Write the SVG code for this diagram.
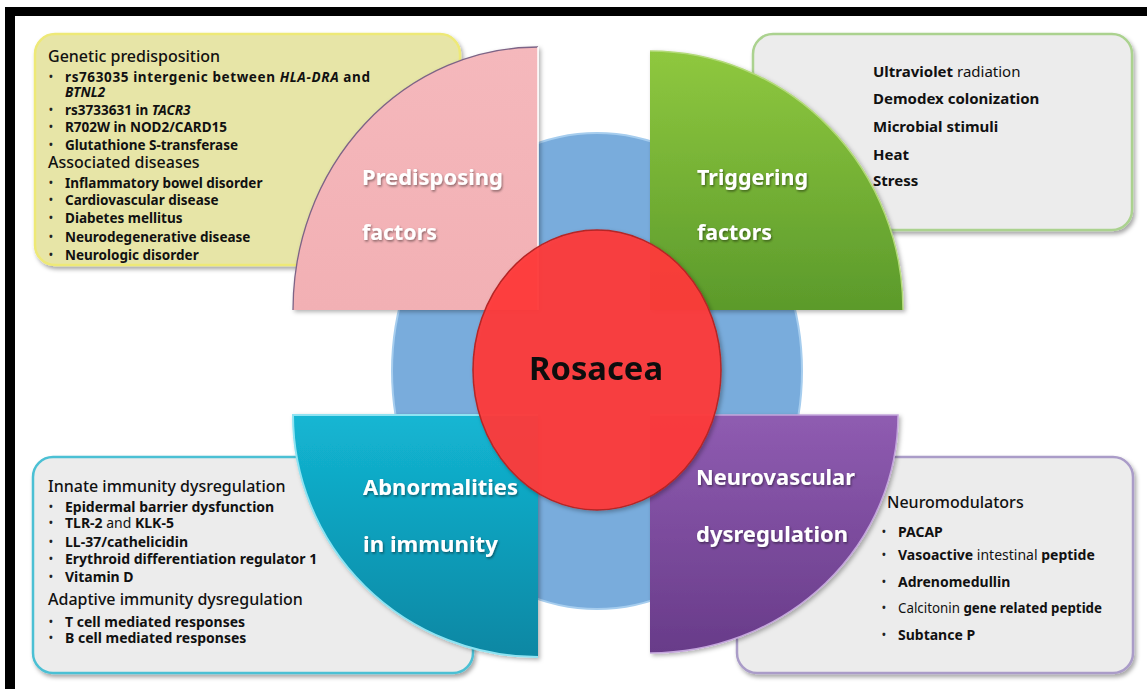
<svg xmlns="http://www.w3.org/2000/svg" width="1147" height="689" viewBox="0 0 1147 689">
<style>
  text { font-family: "Noto Sans", "Liberation Sans", sans-serif; }
  .hd { font-size: 16px; font-weight: 500; fill: #111; }
  .it { font-size: 13.5px; font-weight: bold; fill: #111; }
  .it14 { font-size: 14px; font-weight: bold; fill: #111; }
  .tr { font-size: 15px; font-weight: bold; fill: #111; }
  .rg { font-weight: normal; }
  .bl { font-size: 10px; font-weight: bold; fill: #222; }
  .lab { font-size: 21px; font-weight: bold; fill: #ffffff; filter: url(#tsh); }
  .box { stroke-width: 2.5; filter: url(#bsh); }
</style>
<defs>
  <filter id="bsh" x="-10%" y="-10%" width="120%" height="125%">
    <feDropShadow dx="2" dy="3" stdDeviation="2" flood-color="#000" flood-opacity="0.35"/>
  </filter>
  <filter id="qsh" x="-10%" y="-10%" width="125%" height="125%">
    <feDropShadow dx="2" dy="2" stdDeviation="2" flood-color="#000" flood-opacity="0.3"/>
  </filter>
  <filter id="tsh" x="-10%" y="-20%" width="120%" height="150%">
    <feDropShadow dx="1" dy="1.5" stdDeviation="1" flood-color="#000" flood-opacity="0.45"/>
  </filter>
  <linearGradient id="gGreen" x1="0" y1="0" x2="0" y2="1">
    <stop offset="0" stop-color="#8fc83f"/>
    <stop offset="1" stop-color="#5b9a2b"/>
  </linearGradient>
  <linearGradient id="gTeal" x1="0" y1="0" x2="0" y2="1">
    <stop offset="0" stop-color="#13b6d3"/>
    <stop offset="1" stop-color="#0a87a3"/>
  </linearGradient>
  <linearGradient id="gPurple" x1="0" y1="0" x2="0" y2="1">
    <stop offset="0" stop-color="#8f5cb1"/>
    <stop offset="1" stop-color="#683b89"/>
  </linearGradient>
  <linearGradient id="gPink" x1="0" y1="0" x2="0" y2="1">
    <stop offset="0" stop-color="#f5b8bc"/>
    <stop offset="1" stop-color="#f2b0b4"/>
  </linearGradient>
</defs>

<rect x="0" y="0" width="1147" height="689" fill="#ffffff"/>
<!-- black frame -->
<rect x="5" y="7" width="1142" height="9" fill="#000"/>
<rect x="5" y="7" width="10" height="682" fill="#000"/>

<!-- text boxes -->
<g id="box-predisposing">
  <rect class="box" x="35" y="34" width="425" height="231" rx="20" fill="#e7e5a7" stroke="#eee977"/>
  <text class="hd" x="48" y="62">Genetic predisposition</text>
  <text class="bl" x="49" y="80">•</text>
  <text class="it" x="65" y="82" textLength="305" lengthAdjust="spacing">rs763035 intergenic between <tspan font-style="italic">HLA-DRA</tspan> and</text>
  <text class="it" x="65" y="97" font-style="italic">BTNL2</text>
  <text class="bl" x="49" y="113">•</text>
  <text class="it" x="65" y="115">rs3733631 in <tspan font-style="italic">TACR3</tspan></text>
  <text class="bl" x="49" y="130">•</text>
  <text class="it" x="65" y="132">R702W in NOD2/CARD15</text>
  <text class="bl" x="49" y="148">•</text>
  <text class="it" x="65" y="150">Glutathione S-transferase</text>
  <text class="hd" x="48" y="168">Associated diseases</text>
  <text class="bl" x="49" y="186">•</text>
  <text class="it" x="65" y="188">Inflammatory bowel disorder</text>
  <text class="bl" x="49" y="203">•</text>
  <text class="it" x="65" y="205">Cardiovascular disease</text>
  <text class="bl" x="49" y="221">•</text>
  <text class="it" x="65" y="223">Diabetes mellitus</text>
  <text class="bl" x="49" y="240">•</text>
  <text class="it" x="65" y="242">Neurodegenerative disease</text>
  <text class="bl" x="49" y="258">•</text>
  <text class="it" x="65" y="260">Neurologic disorder</text>
</g>

<g id="box-triggering">
  <rect class="box" x="753" y="34" width="379" height="196" rx="20" fill="#ececec" stroke="#abd28f"/>
  <text class="tr" x="873" y="77">Ultraviolet <tspan class="rg">radiation</tspan></text>
  <text class="tr" x="873" y="104">Demodex colonization</text>
  <text class="tr" x="873" y="132">Microbial stimuli</text>
  <text class="tr" x="873" y="160">Heat</text>
  <text class="tr" x="873" y="186">Stress</text>
</g>

<g id="box-immunity">
  <rect class="box" x="33" y="457" width="440" height="216" rx="20" fill="#ececec" stroke="#4cc0d4"/>
  <text class="hd" x="48" y="492">Innate immunity dysregulation</text>
  <text class="bl" x="49" y="510">•</text>
  <text class="it14" x="65" y="512">Epidermal barrier dysfunction</text>
  <text class="bl" x="49" y="526">•</text>
  <text class="it14" x="65" y="528">TLR-2 <tspan class="rg">and</tspan> KLK-5</text>
  <text class="bl" x="49" y="545">•</text>
  <text class="it14" x="65" y="547">LL-37/cathelicidin</text>
  <text class="bl" x="49" y="562">•</text>
  <text class="it14" x="65" y="564">Erythroid differentiation regulator 1</text>
  <text class="bl" x="49" y="580">•</text>
  <text class="it14" x="65" y="582">Vitamin D</text>
  <text class="hd" x="48" y="605">Adaptive immunity dysregulation</text>
  <text class="bl" x="49" y="625">•</text>
  <text class="it14" x="65" y="627">T cell mediated responses</text>
  <text class="bl" x="49" y="641">•</text>
  <text class="it14" x="65" y="643">B cell mediated responses</text>
</g>

<g id="box-neurovascular">
  <rect class="box" x="737" y="457" width="396" height="216" rx="20" fill="#ececec" stroke="#aa9cc8"/>
  <text class="hd" x="887" y="508">Neuromodulators</text>
  <text class="bl" x="882" y="535">•</text>
  <text class="it14" x="898" y="537">PACAP</text>
  <text class="bl" x="882" y="558">•</text>
  <text class="it14" x="898" y="560">Vasoactive <tspan class="rg">intestinal</tspan> peptide</text>
  <text class="bl" x="882" y="585">•</text>
  <text class="it14" x="898" y="587">Adrenomedullin</text>
  <text class="bl" x="882" y="611">•</text>
  <text class="it14" x="898" y="613" textLength="204" lengthAdjust="spacingAndGlyphs"><tspan class="rg">Calcitonin</tspan> gene related peptide</text>
  <text class="bl" x="882" y="638">•</text>
  <text class="it14" x="898" y="640">Subtance P</text>
</g>

<!-- blue ring disk -->
<g id="ring">
  <ellipse cx="597" cy="371" rx="205" ry="238" fill="#79acdc" stroke="#a6cdee" stroke-width="2"/>
</g>

<!-- quarter sectors -->
<g id="q-predisposing" filter="url(#qsh)">
  <path d="M538,310 L293,310 A245,263 0 0 1 538,47 Z" fill="url(#gPink)"/>
  <path d="M293,310 A245,263 0 0 1 538,47" fill="none" stroke="#7d6486" stroke-width="1.3"/>
  <line x1="538" y1="47" x2="538" y2="310" stroke="#ffffff" stroke-width="1.5"/>
  <text class="lab" x="362" y="185" textLength="141" lengthAdjust="spacingAndGlyphs">Predisposing</text>
  <text class="lab" x="362" y="240" textLength="75" lengthAdjust="spacingAndGlyphs">factors</text>
</g>

<g id="q-triggering" filter="url(#qsh)">
  <path d="M650,310 L650,51 A253,259 0 0 1 903,310 Z" fill="url(#gGreen)"/>
  <path d="M650,51 A253,259 0 0 1 903,310" fill="none" stroke="#b3da7a" stroke-width="1.5"/>
  <text class="lab" x="697" y="185" textLength="111" lengthAdjust="spacingAndGlyphs">Triggering</text>
  <text class="lab" x="697" y="240" textLength="75" lengthAdjust="spacingAndGlyphs">factors</text>
</g>

<g id="q-immunity" filter="url(#qsh)">
  <path d="M538,415 L538,657 A245,242 0 0 1 293,415 Z" fill="url(#gTeal)"/>
  <path d="M538,657 A245,242 0 0 1 293,415 L538,415" fill="none" stroke="#8fe3f2" stroke-width="2"/>
  <text class="lab" x="363" y="495" textLength="155" lengthAdjust="spacingAndGlyphs">Abnormalities</text>
  <text class="lab" x="363" y="552" textLength="135" lengthAdjust="spacingAndGlyphs">in immunity</text>
</g>

<g id="q-neurovascular" filter="url(#qsh)">
  <path d="M650,415 L898,415 A248,238 0 0 1 650,653 Z" fill="url(#gPurple)"/>
  <path d="M650,415 L898,415 A248,238 0 0 1 650,653" fill="none" stroke="#c4a6dc" stroke-width="1.5"/>
  <text class="lab" x="696" y="485" textLength="159" lengthAdjust="spacingAndGlyphs">Neurovascular</text>
  <text class="lab" x="696" y="542" textLength="152" lengthAdjust="spacingAndGlyphs">dysregulation</text>
</g>

<!-- center -->
<g id="center-rosacea" filter="url(#qsh)">
  <ellipse cx="597" cy="370" rx="124" ry="140" fill="#ff3a3a" fill-opacity="0.94" stroke="#b52525" stroke-width="1.5"/>
  <text x="596" y="380" text-anchor="middle" font-size="33" font-weight="bold" fill="#111" textLength="134" lengthAdjust="spacingAndGlyphs">Rosacea</text>
</g>

<g id="connectors"></g>
</svg>
